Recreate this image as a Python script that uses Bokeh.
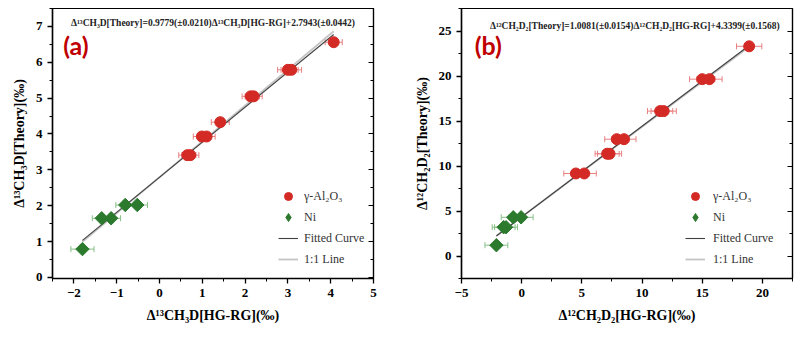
import math
from bokeh.plotting import figure
from bokeh.models import (LinearAxis, Whisker, ColumnDataSource, Legend, LegendItem,
                          Label, SingleIntervalTicker, Range1d)
from bokeh.layouts import row
from bokeh.embed import file_html
from bokeh.resources import INLINE

# ---------------- data: panel (a) ----------------
a_al_x = [0.65, 0.72, 0.99, 1.10, 1.42, 2.13, 2.20, 3.00, 3.08, 4.07]
a_al_y = [3.41, 3.41, 3.93, 3.93, 4.33, 5.05, 5.05, 5.79, 5.79, 6.56]
a_al_err = [0.20, 0.20, 0.20, 0.20, 0.21, 0.20, 0.20, 0.24, 0.24, 0.20]
a_ni_x = [-1.80, -1.35, -1.13, -0.80, -0.52]
a_ni_y = [0.79, 1.65, 1.65, 2.02, 2.02]
a_ni_err = [0.27, 0.22, 0.22, 0.22, 0.24]
a_slope, a_icpt = 0.9779, 2.7943
a_fit_x = [-1.80, 4.07]
a_formula = "Δ¹³CH₃D[Theory]=0.9779(±0.0210)Δ¹³CH₃D[HG-RG]+2.7943(±0.0442)"
a_xlabel = "Δ¹³CH₃D[HG-RG](‰)"
a_ylabel = "Δ¹³CH₃D[Theory](‰)"

# ---------------- data: panel (b) ----------------
b_al_x = [4.5, 5.2, 7.1, 7.3, 7.9, 8.5, 11.5, 11.8, 15.0, 15.6, 18.9]
b_al_y = [9.17, 9.17, 11.36, 11.36, 12.98, 12.98, 16.1, 16.1, 19.65, 19.65, 23.3]
b_al_err = [1.0, 1.0, 1.0, 1.0, 1.0, 1.0, 1.05, 1.05, 1.05, 1.05, 1.05]
b_ni_x = [-2.1, -1.5, -1.3, -0.7, -0.05]
b_ni_y = [1.2, 3.2, 3.2, 4.3, 4.3]
b_ni_err = [0.95, 0.95, 0.95, 1.0, 1.0]
b_slope, b_icpt = 1.0081, 4.3399
b_fit_x = [-2.1, 18.9]
b_formula = "Δ¹²CH₂D₂[Theory]=1.0081(±0.0154)Δ¹²CH₂D₂[HG-RG]+4.3399(±0.1568)"
b_xlabel = "Δ¹²CH₂D₂[HG-RG](‰)"
b_ylabel = "Δ¹²CH₂D₂[Theory](‰)"

legend_labels = ["γ-Al₂O₃", "Ni", "Fitted Curve", "1:1 Line"]

RED = "#d42a25"
RED_ERR = "#e88080"
GREEN = "#2c7a2e"
GREEN_ERR = "#88c088"
SERIF = "Liberation Serif"


def panel(tag, al_x, al_y, al_err, ni_x, ni_y, ni_err, slope, icpt, fit_x,
          formula, xlabel, ylabel, xr, yr, xstep, ystep, borders,
          formula_pos, tag_pos, leg_loc, leg_standoff, width):
    left, right, top, bottom = borders
    p = figure(width=width, height=338, output_backend="svg", toolbar_location=None,
               x_range=Range1d(*xr), y_range=Range1d(*yr),
               min_border_left=left, min_border_right=right,
               min_border_top=top, min_border_bottom=bottom)
    p.grid.visible = False
    p.outline_line_color = "black"
    p.outline_line_width = 1.2
    p.background_fill_color = "white"

    for ax, step in ((p.xaxis[0], xstep), (p.yaxis[0], ystep)):
        ax.ticker = SingleIntervalTicker(interval=step, num_minor_ticks=2)
        ax.major_label_text_font = SERIF
        ax.major_label_text_font_style = "bold"
        ax.major_label_text_font_size = "13px"
        ax.major_label_text_color = "black"
        ax.axis_label_text_font = SERIF
        ax.axis_label_text_font_style = "bold"
        ax.axis_label_text_font_size = "14px"
        ax.axis_label_text_color = "black"
        ax.axis_line_width = 1.5
        ax.major_tick_line_width = 1.3
        ax.minor_tick_line_width = 1.0
        ax.major_tick_out = 5
        ax.major_tick_in = 0
        ax.minor_tick_out = 3
        ax.minor_tick_in = 0
    p.xaxis.axis_label = xlabel
    p.yaxis.axis_label = ylabel
    p.xaxis.axis_label_standoff = 8
    p.yaxis.axis_label_standoff = 6

    rax = LinearAxis(ticker=SingleIntervalTicker(interval=ystep, num_minor_ticks=2),
                     major_label_text_alpha=0, major_label_text_font_size="1px",
                     major_tick_in=5, major_tick_out=0, minor_tick_in=3, minor_tick_out=0,
                     axis_line_width=1.2)
    p.add_layout(rax, "right")

    # lines
    fit_y = [slope * v + icpt for v in fit_x]
    one_y = [v + icpt for v in fit_x]
    l_one = p.line(fit_x, one_y, line_color="#c4c4c4", line_width=1.8)
    l_fit = p.line(fit_x, fit_y, line_color="#404040", line_width=1.1)

    # error bars
    src_al = ColumnDataSource(dict(x=al_x, y=al_y,
                                   lo=[a - e for a, e in zip(al_x, al_err)],
                                   hi=[a + e for a, e in zip(al_x, al_err)]))
    src_ni = ColumnDataSource(dict(x=ni_x, y=ni_y,
                                   lo=[a - e for a, e in zip(ni_x, ni_err)],
                                   hi=[a + e for a, e in zip(ni_x, ni_err)]))
    for src, col in ((src_al, RED_ERR), (src_ni, GREEN_ERR)):
        w = Whisker(source=src, base="y", lower="lo", upper="hi", dimension="width",
                    line_color=col, line_width=1)
        w.upper_head.line_color = col
        w.lower_head.line_color = col
        w.upper_head.size = 6
        w.lower_head.size = 6
        p.add_layout(w)

    r_al = p.scatter("x", "y", source=src_al, marker="circle", size=11,
                     fill_color=RED, line_color=RED)
    p.scatter("x", "y", source=src_ni, marker="square", size=9.5,
              angle=math.pi / 4, fill_color=GREEN, line_color=GREEN)
    # legend proxy for the diamond symbol (no visible points)
    r_ni_leg = p.scatter([float("nan")], [float("nan")], marker="diamond", size=16,
                         fill_color=GREEN, line_color=GREEN)

    p.add_layout(Label(x=formula_pos[0], y=formula_pos[1], text=formula,
                       text_align="center", text_baseline="middle",
                       text_font=SERIF, text_font_style="bold", text_font_size="9.5px",
                       text_color="#222222"))
    p.add_layout(Label(x=tag_pos[0], y=tag_pos[1], text=tag,
                       text_align="left", text_baseline="middle",
                       text_font="Lato", text_font_style="bold", text_font_size="25px",
                       text_color="#c00000"))

    leg = Legend(items=[LegendItem(label=legend_labels[0], renderers=[r_al]),
                        LegendItem(label=legend_labels[1], renderers=[r_ni_leg]),
                        LegendItem(label=legend_labels[2], renderers=[l_fit]),
                        LegendItem(label=legend_labels[3], renderers=[l_one])],
                 location=leg_loc, padding=0, margin=0, spacing=1,
                 glyph_width=20, glyph_height=20, label_height=20,
                 label_standoff=leg_standoff,
                 label_text_font=SERIF, label_text_font_size="12px",
                 label_text_color="#333333",
                 border_line_alpha=0, background_fill_alpha=0)
    p.add_layout(leg)
    return p


pa = panel("(a)", a_al_x, a_al_y, a_al_err, a_ni_x, a_ni_y, a_ni_err, a_slope, a_icpt, a_fit_x,
           a_formula, a_xlabel, a_ylabel, (-2.5, 5.0), (-0.03, 7.5), 1, 1,
           (52, 27, 8, 59), (1.25, 7.1), (-2.25, 6.48), (226, 9), 6, 400)
pb = panel("(b)", b_al_x, b_al_y, b_al_err, b_ni_x, b_ni_y, b_ni_err, b_slope, b_icpt, b_fit_x,
           b_formula, b_xlabel, b_ylabel, (-5.0, 22.5), (-2.5, 27.5), 5, 5,
           (61, 8, 8, 60), (9.4, 25.6), (-3.9, 23.4), (224, 9), 8, 400)

layout = row(pa, pb)
open("out.html", "w").write(file_html(layout, INLINE))
